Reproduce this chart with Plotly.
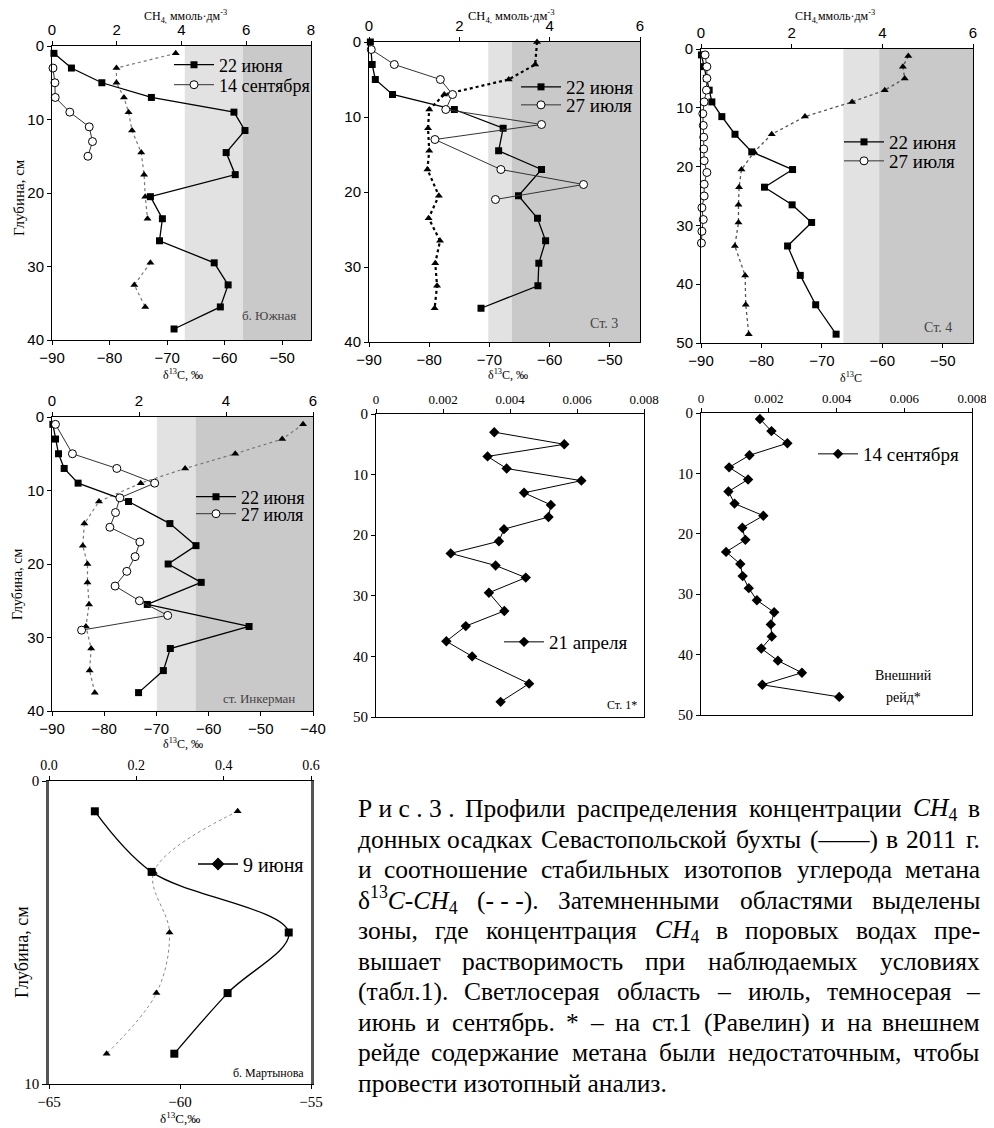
import re
import plotly.graph_objects as go

W, H = 994, 1128
OFF = 8  # the page places the figure 8 px from the top-left corner
SERIF = "Times New Roman, Liberation Serif, DejaVu Serif, serif"
SANS = "Arial, Liberation Sans, DejaVu Sans, sans-serif"

# ---------------- DATA ----------------
# б. Южная
yuzh_depth_jun = [1, 3, 5, 7, 9, 11.5, 14.5, 17.5, 20.5, 23.5, 26.5, 29.5, 32.5, 35.5, 38.5]
yuzh_ch4_jun = [0.06, 0.6, 1.54, 3.07, 5.62, 5.96, 5.38, 5.66, 3.04, 3.41, 3.32, 5.01, 5.44, 5.2, 3.77]
yuzh_depth_sep = [3, 5, 7, 9, 11, 13, 15]
yuzh_ch4_sep = [0.03, 0.09, 0.1, 0.55, 1.15, 1.25, 1.11]
yuzh_depth_d13 = [1, 3, 5, 7, 9, 11.5, 14.5, 17.5, 20.5, 23.5, 29.5, 32.5, 35.5]
yuzh_d13 = [-68.5, -78.8, -78.8, -77.5, -76.7, -76.1, -74.5, -74.0, -73.8, -73.4, -72.9, -75.7, -73.8]

# Ст. 3
st3_depth_jun = [0, 3, 5, 7, 9, 11.5, 14.5, 17, 20.5, 23.5, 26.5, 29.5, 32.5, 35.5]
st3_ch4_jun = [0.03, 0.07, 0.14, 0.52, 1.89, 2.97, 2.87, 3.82, 3.31, 3.73, 3.91, 3.76, 3.74, 2.48]
st3_depth_jul = [1, 3, 5, 7, 9, 11, 13, 17, 19, 21]
st3_ch4_jul = [0.05, 0.56, 1.58, 1.85, 1.70, 3.82, 1.46, 2.92, 4.75, 2.80]
st3_depth_d13 = [0, 3, 5, 7, 9, 11.5, 14.5, 17, 20.5, 23.5, 26.5, 29.5, 32.5, 35.5]
st3_d13 = [-62.1, -62.4, -66.8, -77.5, -80.0, -80.2, -80.0, -80.3, -78.4, -80.1, -78.2, -79.0, -78.7, -79.1]

# Ст. 4
st4_depth_jun = [1, 3, 5, 7, 9, 11.5, 14.5, 17.5, 20.5, 23.5, 26.5, 29.5, 33.5, 38.5, 43.5, 48.5]
st4_ch4_jun = [0.01, 0.07, 0.12, 0.18, 0.24, 0.46, 0.75, 1.12, 2.02, 1.40, 2.01, 2.44, 1.91, 2.19, 2.53, 2.98]
st4_depth_jul = [1, 3, 5, 7, 9, 11, 13, 15, 17, 19, 21, 23, 25, 27, 29, 31, 33]
st4_ch4_jul = [0.09, 0.13, 0.13, 0.12, 0.07, 0.04, 0.05, 0.06, 0.06, 0.07, 0.13, 0.07, 0.07, 0.02, 0.05, 0.02, 0.01]
st4_depth_d13 = [1.2, 3, 5, 7, 9, 11.5, 14.5, 17.5, 20.5, 23.5, 26.5, 29.5, 33.5, 38.5, 43.5, 48.5]
st4_d13 = [-55.7, -56.6, -56.3, -59.6, -65.0, -72.8, -78.3, -81.2, -83.3, -83.7, -83.8, -83.8, -84.4, -82.7, -82.6, -82.1]

# ст. Инкерман
ink_depth_jun = [1, 3, 5, 7, 9, 11.5, 14.5, 17.5, 20, 22.5, 25.5, 28.5, 31.5, 34.5, 37.5]
ink_ch4_jun = [0.02, 0.08, 0.15, 0.28, 0.60, 1.76, 2.71, 3.31, 2.67, 3.43, 2.19, 4.53, 2.72, 2.56, 1.99]
ink_depth_jul = [1, 5, 7, 9, 11, 13, 15, 17, 19, 21, 23, 25, 27, 29]
ink_ch4_jul = [0.08, 0.47, 1.49, 2.36, 1.56, 1.46, 1.33, 2.02, 1.91, 1.72, 1.45, 2.01, 2.66, 0.68]
ink_depth_d13 = [1, 3, 5, 7, 9, 11.5, 14.5, 17.5, 20, 22.5, 25.5, 28.5, 31.5, 34.5, 37.5]
ink_d13 = [-41.9, -45.9, -54.9, -64.5, -73.0, -81.0, -83.8, -84.1, -83.2, -83.2, -82.9, -83.5, -82.5, -82.8, -81.8]

# Ст. 1*
st1_depth = [3, 5, 7, 9, 11, 13, 15, 17, 19, 21, 23, 25, 27, 29.5, 32.5, 35, 37.5, 40, 44.5, 47.5]
st1_ch4 = [0.00353, 0.00562, 0.00333, 0.0039, 0.00613, 0.00442, 0.00522, 0.00515, 0.00382, 0.00367,
           0.00223, 0.00357, 0.00447, 0.00337, 0.00383, 0.00268, 0.0021, 0.00287, 0.00457, 0.00372]

# Внешний рейд*
ext_depth = [1, 3, 5, 7, 9, 11, 13, 15, 17, 19, 21, 23, 25, 27, 29, 31, 33, 35, 37, 39, 41, 43, 45, 47]
ext_ch4 = [0.00174, 0.00208, 0.00255, 0.00143, 0.00083, 0.00139, 0.00081, 0.00099, 0.00184, 0.00122,
           0.00131, 0.00074, 0.00116, 0.00123, 0.00141, 0.00165, 0.00216, 0.00206, 0.00209, 0.00178,
           0.00227, 0.00298, 0.00181, 0.00408]

# б. Мартынова
mart_depth = [1, 3, 5, 7, 9]
mart_ch4 = [0.105, 0.235, 0.549, 0.409, 0.287]
mart_d13 = [-57.8, -61.0, -60.4, -60.9, -62.8]

# shaded zones (CH4 units): [light start, dark start, end]
zones = {
    "x2": [4.1, 5.9, 8.0],
    "x4": [2.64, 3.16, 6.0],
    "x6": [3.14, 3.93, 6.0],
    "x8": [2.41, 3.30, 6.0],
}

# caption ("~" marks a space that is not stretched when justifying)
caption_lines = [
    "Р~и~с~.~3~. Профили распределения концентрации <i>CH</i><sub>4</sub> в",
    "донных осадках Севастопольской бухты (——) в 2011 г.",
    "и соотношение стабильных изотопов углерода метана",
    "δ<sup>13</sup><i>C-CH</i><sub>4</sub> (-~-~-). Затемненными областями выделены",
    "зоны, где концентрация <i>CH</i><sub>4</sub> в поровых водах пре-",
    "вышает растворимость при наблюдаемых условиях",
    "(табл.1). Светлосерая область – июль, темносерая –",
    "июнь и сентябрь. * – на ст.1 (Равелин) и на внешнем",
    "рейде содержание метана были недостаточным, чтобы",
    "провести изотопный анализ.",
]

# ---------------- helpers ----------------
def px_x(p):
    return (p - OFF) / W

def px_y(p):
    return 1 - (p - OFF) / H

# approximate Times advance widths (1/1000 em) for justification of the caption
CW = {" ": 250, "~": 250, ".": 250, ",": 250, "(": 333, ")": 333, "-": 333, "–": 500, "—": 1000,
      "*": 500, "δ": 500, "C": 667, "H": 722, "Р": 556, "П": 722, "С": 667, "З": 500,
      "а": 444, "б": 508, "в": 472, "г": 410, "д": 509, "е": 444, "ж": 691, "з": 395, "и": 535,
      "й": 535, "к": 486, "л": 499, "м": 633, "н": 535, "о": 500, "п": 535, "р": 500, "с": 444,
      "т": 437, "у": 500, "ф": 648, "х": 500, "ц": 535, "ч": 503, "ш": 770, "щ": 770, "ъ": 517,
      "ы": 672, "ь": 456, "э": 429, "ю": 747, "я": 460}

def text_width(html, size):
    total = 0.0
    scale = 1.0
    for part in re.split(r"(<[^>]+>)", html):
        if not part:
            continue
        if part.startswith("<"):
            tag = part.strip("<>/").lower()
            if tag in ("sub", "sup"):
                scale = 1.0 if part.startswith("</") else 0.7
            continue
        for ch in part:
            w = 500 if ch.isdigit() else CW.get(ch, 500)
            total += w * scale
    return total / 1000.0 * size

fig = go.Figure()
layout = {}
annotations = []
shapes = []

def axis_common(font, size):
    return dict(showline=True, linecolor="black", linewidth=1, ticks="outside", ticklen=4,
                tickcolor="black", showgrid=False, zeroline=False, automargin=False,
                tickfont=dict(family=font, size=size, color="black"))

def panel(n_x_bottom, n_x_top, n_y, box, yrange, ydtick, bottom=None, top=None, font=SANS, fsize=15,
          leftline_w=1, leftline_c="black"):
    x0, y0, x1, y1 = box
    dom_x = [px_x(x0), px_x(x1)]
    dom_y = [px_y(y1), px_y(y0)]
    yname = "yaxis" + ("" if n_y == 1 else str(n_y))
    ysuffix = "" if n_y == 1 else str(n_y)
    base_x = None
    if bottom is not None:
        xb = "xaxis" + ("" if n_x_bottom == 1 else str(n_x_bottom))
        d = axis_common(font, bottom.get("fsize", fsize))
        d.update(domain=dom_x, anchor="y" + ysuffix, side="bottom",
                 range=bottom["range"], tickvals=bottom["tickvals"], mirror=False)
        if "ticktext" in bottom:
            d["ticktext"] = bottom["ticktext"]
        layout[xb] = d
        base_x = "x" + ("" if n_x_bottom == 1 else str(n_x_bottom))
    if top is not None:
        xt = "xaxis" + str(n_x_top)
        d = axis_common(font, top.get("fsize", fsize))
        d.update(anchor="y" + ysuffix, side="top", range=top["range"], tickvals=top["tickvals"])
        if "ticktext" in top:
            d["ticktext"] = top["ticktext"]
        if base_x is not None:
            d["overlaying"] = base_x
            d["mirror"] = False
        else:
            d["domain"] = dom_x
            d["mirror"] = True
        layout[xt] = d
    ycfg = axis_common(font, fsize)
    ycfg.update(domain=dom_y, anchor=(base_x if base_x else "x" + str(n_x_top)),
                range=yrange, dtick=ydtick, mirror=True, linewidth=leftline_w, linecolor=leftline_c)
    layout[yname] = ycfg

# Panel 1: б. Южная
panel(1, 2, 1, (52, 46, 311, 340), [40, 0], 10,
      bottom=dict(range=[-90, -45], tickvals=[-90, -80, -70, -60, -50]),
      top=dict(range=[0, 8], tickvals=[0, 2, 4, 6, 8]))
# Panel 2: Ст. 3
panel(3, 4, 2, (369, 42, 640, 342), [40, 0], 10,
      bottom=dict(range=[-90, -45], tickvals=[-90, -80, -70, -60, -50]),
      top=dict(range=[0, 6], tickvals=[0, 2, 4, 6]))
# Panel 3: Ст. 4
panel(5, 6, 3, (701, 49, 973, 343), [50, 0], 10,
      bottom=dict(range=[-90, -45], tickvals=[-90, -80, -70, -60, -50]),
      top=dict(range=[0, 6], tickvals=[0, 2, 4, 6]))
# Panel 4: ст. Инкерман
panel(7, 8, 4, (52, 417, 313, 711), [40, 0], 10,
      bottom=dict(range=[-90, -40], tickvals=[-90, -80, -70, -60, -50, -40]),
      top=dict(range=[0, 6], tickvals=[0, 2, 4, 6]))
# Panel 5: Ст. 1*
small_ticks = [0, 0.002, 0.004, 0.006, 0.008]
small_text = ["0", "0.002", "0.004", "0.006", "0.008"]
panel(None, 9, 5, (376, 414, 644, 717), [50, 0], 10,
      top=dict(range=[0, 0.008], tickvals=small_ticks, ticktext=small_text, fsize=13),
      font=SERIF, fsize=15)
# Panel 6: Внешний рейд*
panel(None, 10, 6, (701, 413, 972, 715), [50, 0], 10,
      top=dict(range=[0, 0.008], tickvals=small_ticks, ticktext=small_text, fsize=13),
      font=SERIF, fsize=15)
# Panel 7: б. Мартынова
panel(11, 12, 7, (49, 781, 311, 1084), [10, 0], 10,
      bottom=dict(range=[-65, -55], tickvals=[-65, -60, -55], fsize=15),
      top=dict(range=[0, 0.6], tickvals=[0, 0.2, 0.4, 0.6], ticktext=["0.0", "0.2", "0.4", "0.6"], fsize=14),
      font=SERIF, fsize=15, leftline_w=2.5, leftline_c="#555555")

# shaded zones
for xr, (a, b, c) in zones.items():
    yr = {"x2": "y", "x4": "y2", "x6": "y3", "x8": "y4"}[xr]
    shapes.append(dict(type="rect", xref=xr, yref=yr + " domain", x0=a, x1=b, y0=0, y1=1,
                       fillcolor="#e2e2e2", line=dict(width=0), layer="below"))
    shapes.append(dict(type="rect", xref=xr, yref=yr + " domain", x0=b, x1=c, y0=0, y1=1,
                       fillcolor="#c9c9c9", line=dict(width=0), layer="below"))

def sq_trace(x, y, xa, ya, name, legend, show=True):
    return go.Scatter(x=x, y=y, xaxis=xa, yaxis=ya, mode="lines+markers", name=name,
                      line=dict(color="black", width=1.3),
                      marker=dict(symbol="square", size=7, color="black"),
                      legend=legend, showlegend=show, cliponaxis=False)

def circ_trace(x, y, xa, ya, name, legend):
    return go.Scatter(x=x, y=y, xaxis=xa, yaxis=ya, mode="lines+markers", name=name,
                      line=dict(color="#333333", width=1),
                      marker=dict(symbol="circle", size=8, color="white", line=dict(color="black", width=1)),
                      legend=legend, showlegend=True, cliponaxis=False)

def tri_trace(x, y, xa, ya, color="#777777", width=1.2, shape="linear"):
    return go.Scatter(x=x, y=y, xaxis=xa, yaxis=ya, mode="lines+markers",
                      line=dict(color=color, width=width, dash="dot", shape=shape),
                      marker=dict(symbol="triangle-up", size=7, color="black"),
                      showlegend=False, cliponaxis=False)

def dia_trace(x, y, xa, ya, name, legend):
    return go.Scatter(x=x, y=y, xaxis=xa, yaxis=ya, mode="lines+markers", name=name,
                      line=dict(color="black", width=1),
                      marker=dict(symbol="diamond", size=8, color="black"),
                      legend=legend, showlegend=True, cliponaxis=False)

# Panel 1 traces
fig.add_trace(tri_trace(yuzh_d13[:10], yuzh_depth_d13[:10], "x", "y"))
fig.add_trace(tri_trace(yuzh_d13[10:], yuzh_depth_d13[10:], "x", "y"))
fig.add_trace(sq_trace(yuzh_ch4_jun, yuzh_depth_jun, "x2", "y", "22 июня", "legend"))
fig.add_trace(circ_trace(yuzh_ch4_sep, yuzh_depth_sep, "x2", "y", "14 сентября", "legend2"))
# Panel 2
fig.add_trace(tri_trace(st3_d13, st3_depth_d13, "x3", "y2", color="black", width=2.2))
fig.add_trace(sq_trace(st3_ch4_jun, st3_depth_jun, "x4", "y2", "22 июня", "legend3"))
fig.add_trace(circ_trace(st3_ch4_jul, st3_depth_jul, "x4", "y2", "27 июля", "legend4"))
# Panel 3
fig.add_trace(tri_trace(st4_d13, st4_depth_d13, "x5", "y3", color="#555555", width=1.3))
fig.add_trace(sq_trace(st4_ch4_jun, st4_depth_jun, "x6", "y3", "22 июня", "legend5"))
fig.add_trace(circ_trace(st4_ch4_jul, st4_depth_jul, "x6", "y3", "27 июля", "legend6"))
# Panel 4
fig.add_trace(tri_trace(ink_d13, ink_depth_d13, "x7", "y4"))
fig.add_trace(sq_trace(ink_ch4_jun, ink_depth_jun, "x8", "y4", "22 июня", "legend7"))
fig.add_trace(circ_trace(ink_ch4_jul, ink_depth_jul, "x8", "y4", "27 июля", "legend8"))
# Panel 5
fig.add_trace(dia_trace(st1_ch4, st1_depth, "x9", "y5", "21 апреля", "legend9"))
# Panel 6
fig.add_trace(dia_trace(ext_ch4, ext_depth, "x10", "y6", "14 сентября", "legend10"))
# Panel 7
fig.add_trace(tri_trace(mart_d13, mart_depth, "x11", "y7", color="#888888", width=1, shape="spline"))
fig.add_trace(go.Scatter(x=mart_ch4, y=mart_depth, xaxis="x12", yaxis="y7", mode="lines+markers",
                         line=dict(color="black", width=1.3, shape="spline"),
                         marker=dict(symbol="square", size=8, color="black"),
                         showlegend=False, cliponaxis=False))
# legend entry for panel 7 (diamond symbol as in the original legend)
fig.add_trace(go.Scatter(x=[None], y=[None], xaxis="x12", yaxis="y7", mode="lines+markers",
                         name="9 июня", line=dict(color="black", width=1.3),
                         marker=dict(symbol="diamond", size=10, color="black"),
                         legend="legend11", showlegend=True))

def leg(text_x, center_y, size):
    return dict(x=px_x(text_x - 49), y=px_y(center_y), xanchor="left", yanchor="middle",
                bgcolor="rgba(0,0,0,0)", borderwidth=0, itemwidth=40,
                font=dict(family=SERIF, size=size, color="black"), tracegroupgap=0,
                itemclick=False, itemdoubleclick=False)

layout["legend"] = leg(218, 65, 18)
layout["legend2"] = leg(218, 85, 18)
layout["legend3"] = leg(565, 87, 19)
layout["legend4"] = leg(565, 105, 19)
layout["legend5"] = leg(888, 142, 19)
layout["legend6"] = leg(888, 161, 19)
layout["legend7"] = leg(240, 497, 18)
layout["legend8"] = leg(240, 514, 18)
layout["legend9"] = leg(548, 642, 19)
layout["legend10"] = leg(862, 454, 19)
layout["legend11"] = leg(242, 864, 20)

def ann(text, xp, yp, size=12, family=SERIF, color="black", xanchor="center", yanchor="middle",
        angle=0, align="center"):
    annotations.append(dict(text=text, x=px_x(xp), y=px_y(yp), xref="paper", yref="paper",
                            showarrow=False, xanchor=xanchor, yanchor=yanchor, textangle=angle,
                            font=dict(family=family, size=size, color=color), align=align,
                            borderpad=0))

ch4_title = "CH<sub>4,</sub> ммоль·дм<sup>-3</sup>"
d13_title = "δ<sup>13</sup>C, ‰"
ann(ch4_title, 185, 16, size=12)
ann(ch4_title, 511, 16, size=12.5)
ann("CH<sub>4,</sub>ммоль·дм<sup>-3</sup>", 835, 17, size=12)
ann(d13_title, 183, 374)
ann(d13_title, 508, 374)
ann("δ<sup>13</sup>C", 851, 377)
ann(d13_title, 183, 743)
ann("δ<sup>13</sup>C,‰", 180, 1118, size=13)

ann("Глубина, см", 19, 198, size=15, angle=-90)
ann("Глубина, см", 18, 585, size=14, angle=-90)
ann("Глубина, см", 22, 952, size=18, angle=-90)

ann("б. Южная", 297, 315, size=13, color="#444444", xanchor="right")
ann("Ст. 3", 619, 323, size=14, color="#444444", xanchor="right")
ann("Ст. 4", 953, 328, size=14, color="#444444", xanchor="right")
ann("ст. Инкерман", 296, 698, size=13, color="#444444", xanchor="right")
ann("Ст. 1*", 638, 705, size=12, xanchor="right")
ann("Внешний", 903, 675, size=14)
ann("рейд*", 903, 697, size=14)
ann("б. Мартынова", 305, 1073, size=12, xanchor="right")

# caption, justified word by word between CAP_L and CAP_R
CAP_L, CAP_R = 357, 981
CAP_SIZE = 25.5
CAP_Y0, CAP_DY = 808.5, 30.56
for i, line in enumerate(caption_lines):
    yc = CAP_Y0 + i * CAP_DY
    if i == len(caption_lines) - 1:
        ann(line.replace("~", " "), CAP_L, yc, size=CAP_SIZE, xanchor="left", align="left")
        continue
    words = line.split(" ")
    widths = [text_width(w, CAP_SIZE) for w in words]
    gap = (CAP_R - CAP_L - sum(widths)) / (len(words) - 1)
    xpos = CAP_L
    for j, (w, wd) in enumerate(zip(words, widths)):
        txt = w.replace("~", " ")
        if j == 0:
            ann(txt, CAP_L, yc, size=CAP_SIZE, xanchor="left")
        elif j == len(words) - 1:
            ann(txt, CAP_R, yc, size=CAP_SIZE, xanchor="right")
        else:
            ann(txt, xpos + wd / 2, yc, size=CAP_SIZE, xanchor="center")
        xpos += wd + gap

layout.update(dict(
    width=W, height=H, margin=dict(l=0, r=0, t=0, b=0, pad=0, autoexpand=False),
    paper_bgcolor="white", plot_bgcolor="white",
    annotations=annotations, shapes=shapes,
))
fig.update_layout(**layout)
fig.write_html("out.html")
